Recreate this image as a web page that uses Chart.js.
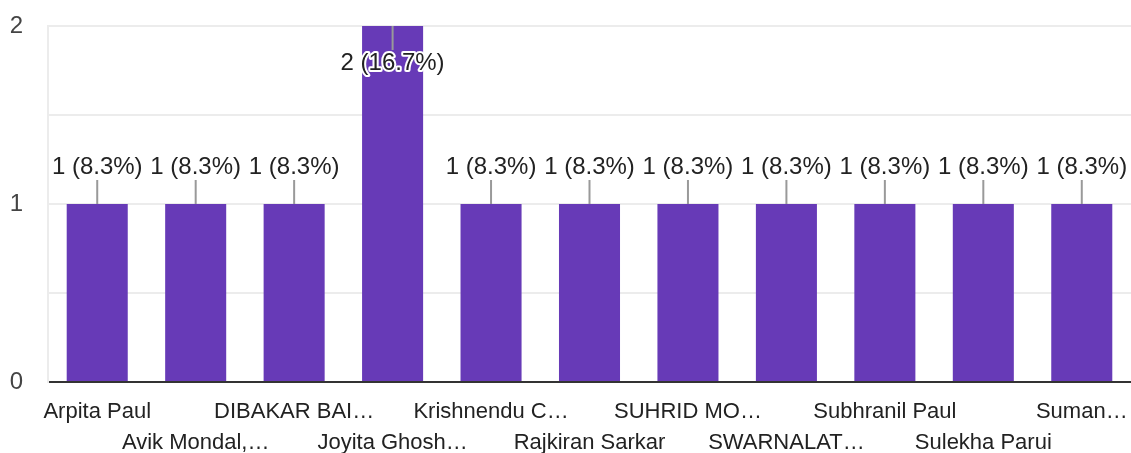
<!DOCTYPE html>
<html>
<head>
<meta charset="utf-8">
<script src="https://cdn.jsdelivr.net/npm/chart.js@4/dist/chart.umd.min.js"></script>
<style>
  html, body { margin: 0; padding: 0; background: #fff; }
  #wrap { width: 1131px; height: 453px; position: relative; }
</style>
</head>
<body>
<div id="wrap"><canvas id="c"></canvas></div>
<script>
// nazwy (uciete jak na obrazku)
const names = [
  'Arpita Paul', 'Avik Mondal,…', 'DIBAKAR BAI…', 'Joyita Ghosh…',
  'Krishnendu C…', 'Rajkiran Sarkar', 'SUHRID MO…', 'SWARNALAT…',
  'Subhranil Paul', 'Sulekha Parui', 'Suman…'
]
// ilosc odpowiedzi
const counts = [1, 1, 1, 2, 1, 1, 1, 1, 1, 1, 1]
const yTicks = [0, 1, 2]

const total = counts.reduce((a, b) => a + b, 0)
const FONT = 'Arial, "Liberation Sans", sans-serif'

// etykiety nad slupkami z kreska
const barLabels = {
  id: 'barLabels',
  afterDatasetsDraw(chart) {
    const ctx = chart.ctx
    const meta = chart.getDatasetMeta(0)
    const top = chart.chartArea.top
    ctx.save()
    ctx.font = '24px ' + FONT
    ctx.textAlign = 'center'
    ctx.textBaseline = 'middle'
    meta.data.forEach((bar, i) => {
      const v = counts[i]
      const txt = v + ' (' + (v / total * 100).toFixed(1) + '%)'
      const inside = bar.y - 40 < top
      let y1, y2, ty
      if (inside) {
        y1 = bar.y; y2 = bar.y + 24; ty = bar.y + 37
      } else {
        y1 = bar.y - 24; y2 = bar.y; ty = bar.y - 37
      }
      ctx.strokeStyle = '#999'
      ctx.lineWidth = 2
      ctx.beginPath()
      ctx.moveTo(bar.x, y1)
      ctx.lineTo(bar.x, y2)
      ctx.stroke()
      ctx.lineWidth = 4
      ctx.strokeStyle = '#fff'
      ctx.lineJoin = 'round'
      ctx.strokeText(txt, bar.x, ty)
      ctx.fillStyle = '#222'
      ctx.fillText(txt, bar.x, ty)
    })
    ctx.restore()
  }
}

new Chart(document.getElementById('c'), {
  type: 'bar',
  data: {
    labels: names,
    datasets: [{
      data: counts,
      backgroundColor: '#673ab7',
      barPercentage: 0.62,
      categoryPercentage: 1
    }]
  },
  options: {
    responsive: true,
    maintainAspectRatio: false,
    animation: false,
    layout: { padding: { top: 26, right: 0, left: 0, bottom: 0 } },
    plugins: { legend: { display: false }, tooltip: { enabled: false } },
    scales: {
      x: {
        grid: { display: false },
        border: { display: false },
        ticks: {
          autoSkip: false,
          maxRotation: 0,
          minRotation: 0,
          padding: 6,
          color: '#222',
          font: { family: FONT, size: 22, lineHeight: 1.42 },
          callback: (val, i) => (i % 2 === 0 ? [names[i], ''] : ['', names[i]])
        },
        afterFit: (s) => { s.height = 71; s.paddingLeft = 0; s.paddingRight = 0 }
      },
      y: {
        min: 0,
        max: 2,
        grid: {
          drawTicks: false,
          lineWidth: 2,
          color: (c) => (c.tick && c.tick.value === 0 ? '#333' : '#ececec')
        },
        border: { color: '#ececec', width: 2 },
        ticks: {
          stepSize: 0.5,
          padding: 25,
          color: '#444',
          font: { family: FONT, size: 24 },
          callback: (v) => (yTicks.includes(v) ? String(v) : '')
        },
        afterFit: (s) => { s.width = 48; s.paddingTop = 0; s.paddingBottom = 0 }
      }
    }
  },
  plugins: [barLabels]
})
</script>
</body>
</html>
